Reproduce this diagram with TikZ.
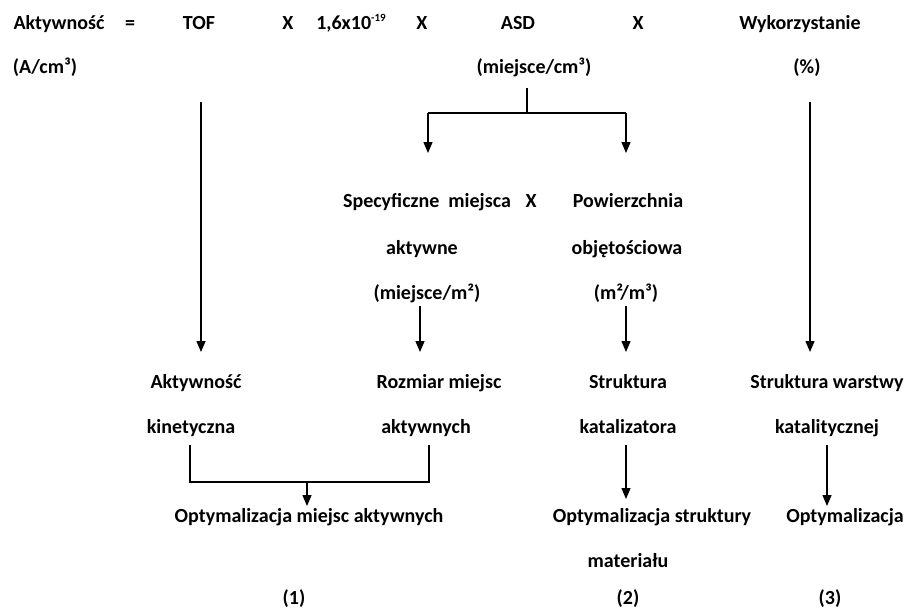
\documentclass[tikz,border=0pt]{standalone}
\usepackage{fontspec}
\setmainfont{Carlito}
\usetikzlibrary{arrows.meta}
\tikzset{
  lbl/.style={font=\fontsize{20}{24}\selectfont\bfseries, inner sep=0pt, anchor=base},
  ln/.style={line width=1.3pt},
  arr/.style={line width=1.3pt, -{Triangle[width=9pt,length=11pt]}}
}
\newcommand{\lbl}[3]{\node[lbl] (#1) at #2 {#3};}
\newcommand{\sups}[1]{\raisebox{0.8ex}{\fontsize{11}{11}\selectfont #1}}

\begin{document}
\begin{tikzpicture}[x=1pt,y=-1pt]
\useasboundingbox (0,0) rectangle (915,614);
% formula
\lbl{akt}{(59,29)}{Aktywność}
\lbl{eq}{(130,29)}{=}
\lbl{tof}{(199,29)}{TOF}
\lbl{xa}{(288,29)}{X}
\lbl{const}{(351,29)}{1,6x10\sups{-19}}
\lbl{xb}{(422,29)}{X}
\lbl{asd}{(518,29)}{ASD}
\lbl{xc}{(638,29)}{X}
\lbl{wyk}{(800,29)}{Wykorzystanie}
\lbl{aktu}{(45,73)}{(A/cm³)}
\lbl{asdu}{(534,73)}{(miejsce/cm³)}
\lbl{wyku}{(807,73)}{(\%)}
% ASD split
\lbl{spec}{(427,207)}{Specyficzne\ \ miejsca}
\lbl{xd}{(531,207)}{X}
\lbl{pow}{(628,207)}{Powierzchnia}
\lbl{spec2}{(422,254)}{aktywne}
\lbl{pow2}{(627,254)}{objętościowa}
\lbl{specu}{(427,299)}{(miejsce/m²)}
\lbl{powu}{(626,299)}{(m²/m³)}
% properties
\lbl{kin}{(196,388)}{Aktywność}
\lbl{kin2}{(191,433)}{kinetyczna}
\lbl{roz}{(439,388)}{Rozmiar miejsc}
\lbl{roz2}{(426,433)}{aktywnych}
\lbl{kat}{(628,388)}{Struktura}
\lbl{kat2}{(628,433)}{katalizatora}
\lbl{war}{(827,388)}{Struktura warstwy}
\lbl{war2}{(827,433)}{katalitycznej}
% goals
\lbl{opt}{(309,522)}{Optymalizacja miejsc aktywnych}
\lbl{optb}{(652,522)}{Optymalizacja struktury}
\lbl{optb2}{(628,567)}{materiału}
\lbl{optc}{(845,522)}{Optymalizacja}
\lbl{na}{(294,604)}{(1)}
\lbl{nb}{(628,604)}{(2)}
\lbl{nc}{(830,604)}{(3)}
% arrow ends
\coordinate (tofA) at (201,102);  \coordinate (tofB) at (201,352);
\coordinate (wykA) at (810,102);  \coordinate (wykB) at (810,352);
\coordinate (asdA) at (527,88);   \coordinate (asdB) at (527,113);
\coordinate (splL) at (428,113);  \coordinate (splR) at (626,113);
\coordinate (splLB) at (428,153); \coordinate (splRB) at (626,153);
\coordinate (specA) at (420,306); \coordinate (specB) at (420,352);
\coordinate (powA) at (626,306);  \coordinate (powB) at (626,352);
\coordinate (kinA) at (190,445);  \coordinate (kinB) at (190,482);
\coordinate (rozA) at (429,445);  \coordinate (rozB) at (429,482);
\coordinate (joinA) at (307,482); \coordinate (joinB) at (307,506);
\coordinate (katA) at (626,445);  \coordinate (katB) at (626,499);
\coordinate (warA) at (827,445);  \coordinate (warB) at (827,506);
\draw[arr] (tofA) -- (tofB);
\draw[arr] (wykA) -- (wykB);
\draw[ln] (asdA) -- (asdB);
\draw[ln] (splL) -- (splR);
\draw[arr] (splL) -- (splLB);
\draw[arr] (splR) -- (splRB);
\draw[arr] (specA) -- (specB);
\draw[arr] (powA) -- (powB);
\draw[ln] (kinA) -- (kinB) -- (rozB) -- (rozA);
\draw[arr] (joinA) -- (joinB);
\draw[arr] (katA) -- (katB);
\draw[arr] (warA) -- (warB);
\end{tikzpicture}
\end{document}
